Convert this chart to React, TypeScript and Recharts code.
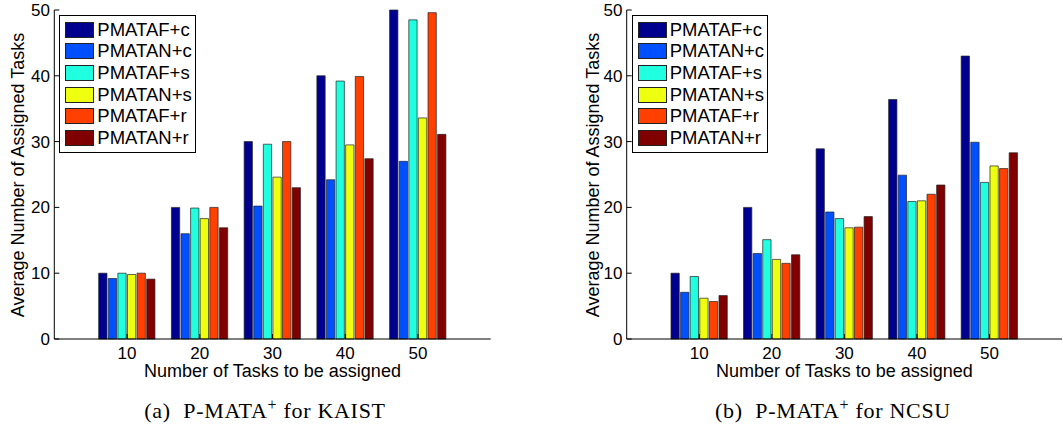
import { BarChart, Bar, XAxis, YAxis, Legend } from 'recharts'

const taskCounts = ['10', '20', '30', '40', '50']
const seriesNames = ['PMATAF+c', 'PMATAN+c', 'PMATAF+s', 'PMATAN+s', 'PMATAF+r', 'PMATAN+r']
const seriesColors = ['#00008f', '#0050ff', '#20ffdf', '#efff10', '#ff4000', '#800000']
const yTicks = [0, 10, 20, 30, 40, 50]

// (a) KAIST
const kaistAFc = [10, 20, 30, 40, 50]
const kaistANc = [9.2, 16, 20.2, 24.2, 27]
const kaistAFs = [10, 19.9, 29.6, 39.2, 48.5]
const kaistANs = [9.8, 18.3, 24.6, 29.5, 33.6]
const kaistAFr = [10, 20, 30, 39.9, 49.6]
const kaistANr = [9.1, 16.9, 23, 27.4, 31.1]

// (b) NCSU
const ncsuAFc = [10, 20, 28.9, 36.4, 43]
const ncsuANc = [7.1, 13, 19.3, 24.9, 29.9]
const ncsuAFs = [9.5, 15.1, 18.3, 20.9, 23.8]
const ncsuANs = [6.2, 12.1, 16.9, 21, 26.3]
const ncsuAFr = [5.7, 11.5, 17, 22, 25.9]
const ncsuANr = [6.6, 12.8, 18.6, 23.4, 28.3]

const kaistSeries = [kaistAFc, kaistANc, kaistAFs, kaistANs, kaistAFr, kaistANr]
const ncsuSeries = [ncsuAFc, ncsuANc, ncsuAFs, ncsuANs, ncsuAFr, ncsuANr]

const toRows = (series: number[][]) =>
  taskCounts.map((task, i) => {
    const row: Record<string, string | number> = { task }
    series.forEach((s, k) => { row['s' + k] = s[i] })
    return row
  })

const CHART_W = 520
const CHART_H = 390
const FONT = '"Liberation Sans", Arial, sans-serif'

function LegendBox() {
  return (
    <div style={{ border: '1px solid #000', background: '#fff', padding: '3px 3px 3px 5px', fontFamily: FONT }}>
      {seriesNames.map((name, i) => (
        <div key={name} style={{ display: 'flex', alignItems: 'center', height: 21.6 }}>
          <div style={{ width: 27, height: 14, background: seriesColors[i], border: '1px solid #222', marginRight: 3 }} />
          <span style={{ fontSize: 18.5, lineHeight: '18px', color: '#000' }}>{name}</span>
        </div>
      ))}
    </div>
  )
}

interface PanelProps {
  series: number[][]
  x: number
  plotLeft: number
  plotRight: number
  legendLeft: number
}

function Panel({ series, x, plotLeft, plotRight, legendLeft }: PanelProps) {
  const rows = toRows(series)
  const pad = (plotRight - plotLeft) / 12
  const axisStroke = { stroke: '#000', strokeWidth: 1 }
  return (
    <div style={{ position: 'absolute', left: x, top: 0 }}>
      <BarChart
        width={CHART_W}
        height={CHART_H}
        data={rows}
        margin={{ top: 10, right: CHART_W - plotRight, bottom: 11, left: 0 }}
        barSize={8.3}
        barGap={1.3}
      >
        <XAxis
          dataKey="task"
          height={40}
          padding={{ left: pad, right: pad }}
          axisLine={axisStroke}
          tickLine={axisStroke}
          tickSize={-5}
          tickMargin={13}
          tick={{ fill: '#000', fontSize: 17, fontFamily: FONT }}
          label={{ value: 'Number of Tasks to be assigned', position: 'insideBottom', offset: 2, fill: '#000', fontSize: 18, fontFamily: FONT }}
        />
        <XAxis
          xAxisId="top"
          dataKey="task"
          orientation="top"
          height={0}
          padding={{ left: pad, right: pad }}
          axisLine={axisStroke}
          tickLine={axisStroke}
          tickSize={-5}
          tick={false}
        />
        <YAxis
          width={plotLeft}
          domain={[0, 50]}
          ticks={yTicks}
          interval={0}
          axisLine={axisStroke}
          tickLine={axisStroke}
          tickSize={-5}
          tickMargin={9.3}
          tick={{ fill: '#000', fontSize: 17, fontFamily: FONT }}
        />
        <YAxis
          yAxisId="r"
          orientation="right"
          width={0}
          domain={[0, 50]}
          ticks={yTicks}
          interval={0}
          axisLine={axisStroke}
          tickLine={axisStroke}
          tickSize={-5}
          tick={false}
        />
        <Legend
          layout="vertical"
          align="center"
          verticalAlign="middle"
          content={() => <LegendBox />}
          wrapperStyle={{ left: legendLeft, top: 15, width: 'auto' }}
        />
        {seriesNames.map((name, i) => (
          <Bar
            key={name}
            dataKey={'s' + i}
            name={name}
            fill={seriesColors[i]}
            stroke="#222"
            strokeWidth={0.7}
            isAnimationActive={false}
          />
        ))}
      </BarChart>
    </div>
  )
}

const yLabelStyle = (cx: number): React.CSSProperties => ({
  position: 'absolute',
  left: cx,
  top: 175,
  transform: 'translate(-50%, -50%) rotate(-90deg)',
  whiteSpace: 'nowrap',
  fontFamily: FONT,
  fontSize: 18,
  color: '#000',
})

const captionStyle = (cx: number): React.CSSProperties => ({
  position: 'absolute',
  left: cx,
  top: 410,
  transform: 'translate(-50%, -50%)',
  whiteSpace: 'nowrap',
  fontFamily: '"Liberation Serif", "DejaVu Serif", serif',
  fontSize: 22,
  letterSpacing: 0.7,
  color: '#000',
})

export default function App() {
  return (
    <div style={{ position: 'absolute', left: 0, top: 0, width: 1063, height: 431, overflow: 'hidden', background: '#fff' }}>
      <Panel series={kaistSeries} x={0} plotLeft={54.3} plotRight={490.7} legendLeft={59.3} />
      <Panel series={ncsuSeries} x={560} plotLeft={66.7} plotRight={502} legendLeft={71.7} />
      <div style={yLabelStyle(18)}>Average Number of Assigned Tasks</div>
      <div style={yLabelStyle(593)}>Average Number of Assigned Tasks</div>
      <div style={captionStyle(265)}>(a)&nbsp; P-MATA<sup style={{ fontSize: 16 }}>+</sup> for KAIST</div>
      <div style={captionStyle(833)}>(b)&nbsp; P-MATA<sup style={{ fontSize: 16 }}>+</sup> for NCSU</div>
    </div>
  )
}
